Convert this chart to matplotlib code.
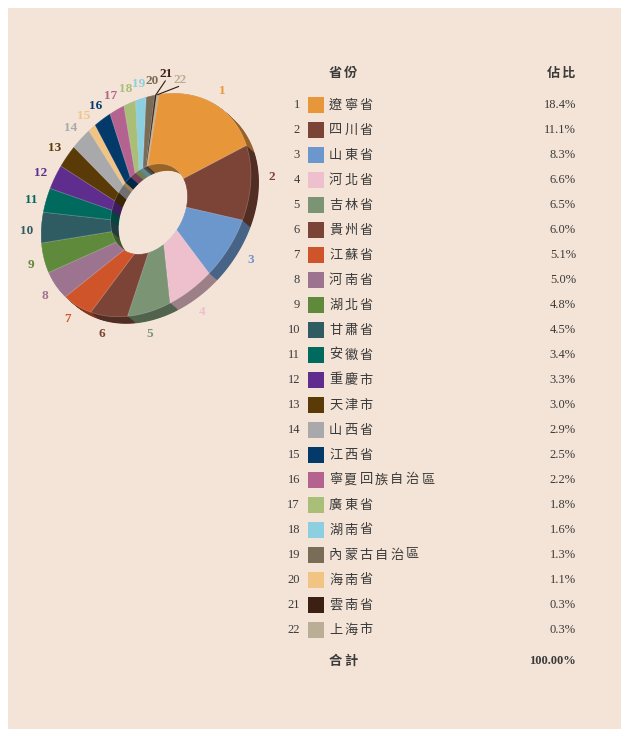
import matplotlib.pyplot as plt
from matplotlib.patches import Polygon, Rectangle
from matplotlib.colors import to_rgb
import numpy as np

W, H = 621, 729
BG = '#F4E4D7'
TXT = '#3a3a3a'
SERIF = ['Liberation Serif', 'Noto Sans CJK TC']
CJK = ['Noto Sans CJK TC', 'Liberation Serif']

provinces = ['遼寧省', '四川省', '山東省', '河北省', '吉林省', '貴州省', '江蘇省', '河南省',
             '湖北省', '甘肅省', '安徽省', '重慶市', '天津市', '山西省', '江西省', '寧夏回族自治區',
             '廣東省', '湖南省', '內蒙古自治區', '海南省', '雲南省', '上海市']
shares = [18.4, 11.1, 8.3, 6.6, 6.5, 6.0, 5.1, 5.0, 4.8, 4.5, 3.4, 3.3,
          3.0, 2.9, 2.5, 2.2, 1.8, 1.6, 1.3, 1.1, 0.3, 0.3]
colors = ['#E8963A', '#7B4436', '#6C97CC', '#EEC0CE', '#7A9474', '#7B4436',
          '#CF5429', '#9C748F', '#5F8A3B', '#2F5B63', '#016A5F', '#5E2D8D',
          '#5A3A07', '#A9A9AB', '#033A6A', '#B4628F', '#A9BF78', '#8CCFE1',
          '#7A6D57', '#F2C484', '#3B2013', '#BAAE96']
total_label = '100.00%'

# slice order around the ring, clockwise from the top
ring_order = [0, 1, 2, 3, 4, 5, 6, 7, 8, 9, 10, 11, 12, 13, 19, 14, 15, 16, 17, 18, 20, 21]


def darker(c, f=0.66):
    r, g, b = to_rgb(c)
    return (r * f, g * f, b * f)


def ellipse(cx, cy, a, b, rot, sy=1.065):
    """map unit-circle angles (deg) to points on a rotated ellipse"""
    cr, sr = np.cos(np.radians(rot)), np.sin(np.radians(rot))

    def f(ang, r=1.0):
        t = np.radians(np.atleast_1d(ang))
        x, y = r * a * np.cos(t), r * b * np.sin(t)
        return np.column_stack([cx + x * cr - y * sr, cy + sy * (x * sr + y * cr)])
    return f


fig = plt.figure(figsize=(W / 100, H / 100), dpi=100)
fig.patch.set_facecolor('white')
ax = fig.add_axes([0, 0, 1, 1])
ax.set_xlim(0, W)
ax.set_ylim(0, H)
ax.axis('off')
ax.add_patch(Rectangle((8, 0), W - 8, H - 8, facecolor=BG, edgecolor='none', zorder=0))

# ---- tilted donut ----
centre = np.array([146, H - 205])
outer = ellipse(centre[0], centre[1], 118, 90, 45)
inner = ellipse(149, H - 209, 46, 34, 55)
depth = np.array([8, -7])
start = 45.7

vals = np.array([shares[i] for i in ring_order])
ends = start - np.cumsum(vals) * 3.6
begins = np.concatenate([[start], ends[:-1]])
mids = (begins + ends) / 2


def slice_poly(a0, a1):
    ang = np.linspace(a0, a1, max(int(abs(a0 - a1)), 2) + 1)
    return np.vstack([outer(ang), inner(ang[::-1])])


polys = [slice_poly(begins[j], ends[j]) for j in range(len(vals))]

# side walls: stacked copies shifted down-right
for k in np.linspace(1, 0, 16):
    for j, i in enumerate(ring_order):
        ax.add_patch(Polygon(polys[j] + depth * k, closed=True, facecolor=darker(colors[i]),
                             edgecolor='none', zorder=1))

# top face
for j, i in enumerate(ring_order):
    ax.add_patch(Polygon(polys[j], closed=True, facecolor=colors[i],
                         edgecolor=(1, 1, 1, 0.25), linewidth=0.5, zorder=2))


def label_pos(ang, gap):
    p = outer(ang)[0]
    d = (p - centre) / np.hypot(*(p - centre))
    return p + d * (gap + max(np.dot(d, depth), 0))


# position numbers around the ring
lab_ang = mids.copy()
gaps = np.full(len(mids), 15.0)
lab_ang[16] += 1.0
lab_ang[17] += 1.0
lab_ang[18] += 0.6
lab_ang[19] -= 0.6
lab_ang[20], gaps[20] = start - 2.5, 20
lab_ang[21], gaps[21] = start - 10, 14
for j, i in enumerate(ring_order):
    x, y = label_pos(lab_ang[j], gaps[j])
    ax.text(x, y, str(j + 1), color=colors[i], fontsize=9.5, fontweight='bold',
            family=SERIF, ha='center', va='center', zorder=3)
    if j >= 20:
        p0 = outer(mids[j])[0]
        p1 = label_pos(lab_ang[j], gaps[j] - 7)
        ax.plot([p0[0], p1[0]], [p0[1], p1[1]], color='#2a1a10', lw=0.8, zorder=3)


# ---- table ----
def spaced(x, y, s, step=15.3, **kw):
    for n, ch in enumerate(s):
        ax.text(x + n * step, y, ch, ha='left', va='center', family=CJK, **kw)


row_y0, row_step = 105, 25
x_idx, x_box, x_name, x_pct = 300, 308, 329, 576

spaced(x_name, H - 73, '省份', fontsize=9.5, fontweight='bold', color=TXT)
spaced(x_pct - 29, H - 73, '佔比', fontsize=9.5, fontweight='bold', color=TXT)

for n, (name, share, c) in enumerate(zip(provinces, shares, colors)):
    y = H - (row_y0 + n * row_step)
    ax.text(x_idx, y, str(n + 1), ha='right', va='center', family=SERIF, fontsize=9, color=TXT)
    ax.add_patch(Rectangle((x_box, y - 8), 16, 16, facecolor=c, edgecolor='none'))
    spaced(x_name, y, name, fontsize=9.5, fontweight='light', color=TXT)
    ax.text(x_pct, y, f'{share:.1f}%', ha='right', va='center', family=SERIF,
            fontsize=9, color=TXT)

spaced(x_name, H - 661, '合計', fontsize=9.5, fontweight='bold', color=TXT)
ax.text(x_pct, H - 661, total_label, ha='right', va='center', family=SERIF,
        fontsize=9, fontweight='bold', color=TXT)

fig.savefig('out.png', dpi=100, facecolor=fig.get_facecolor())
